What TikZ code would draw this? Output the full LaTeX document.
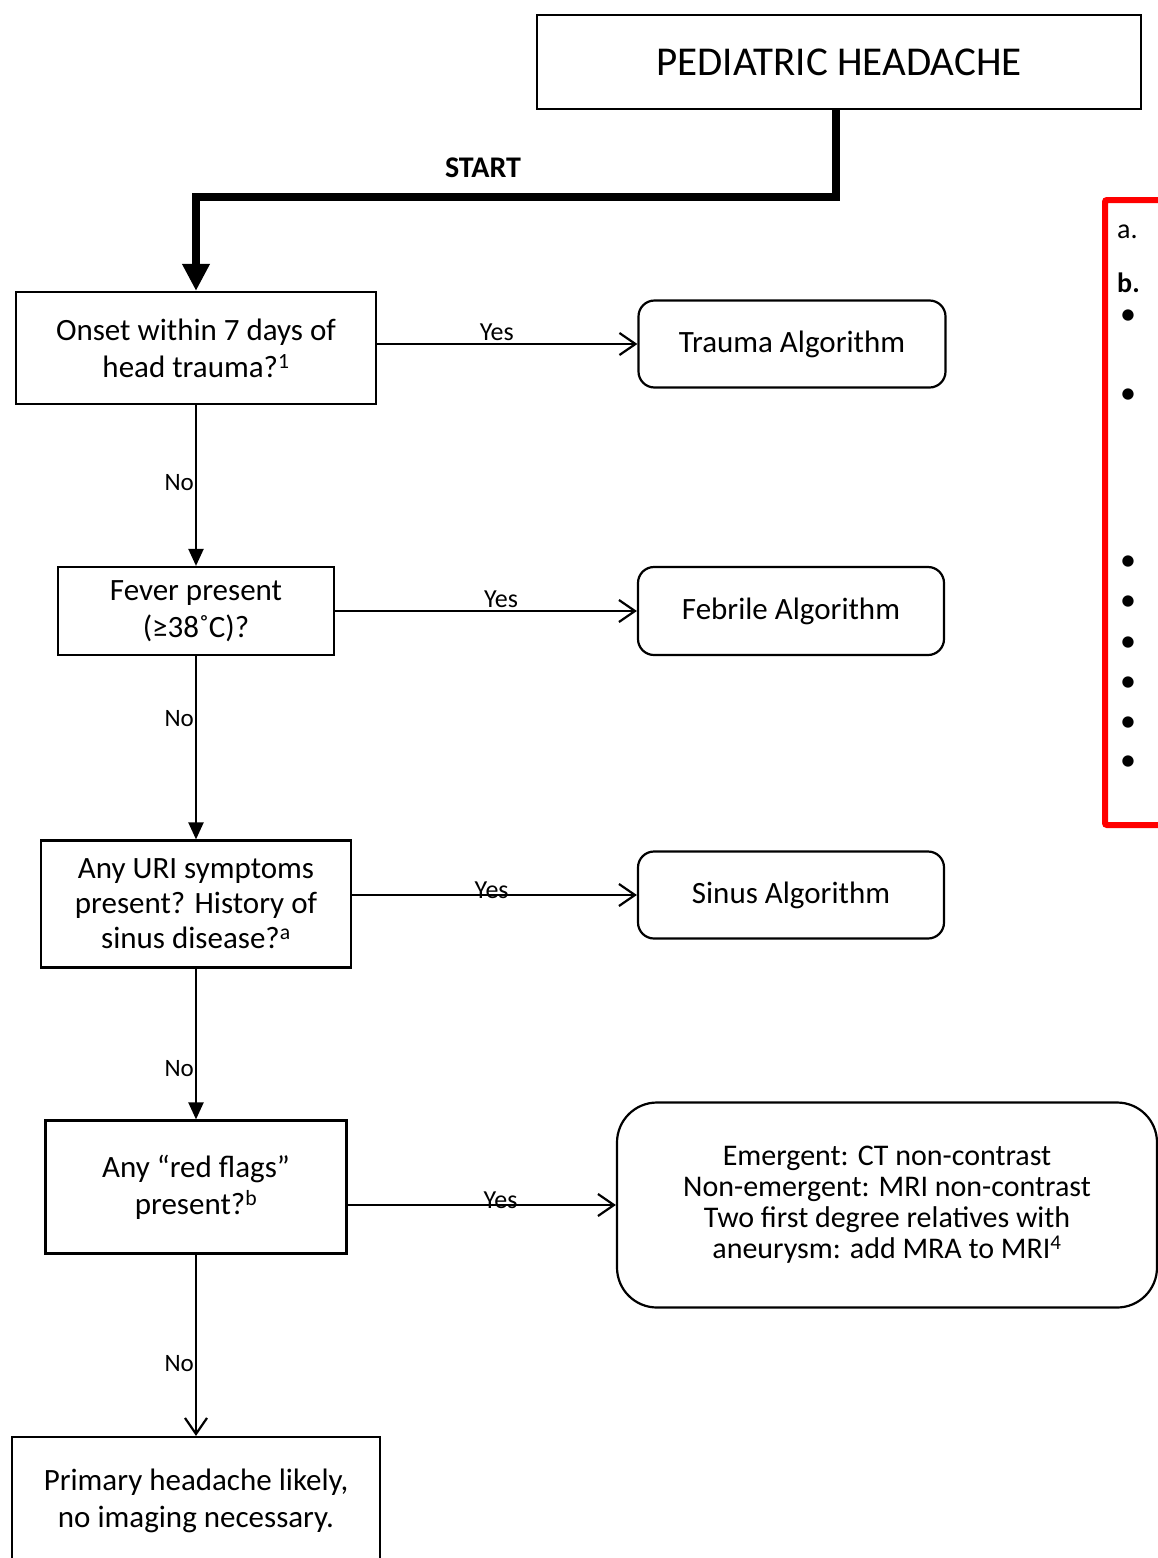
\documentclass[tikz,border=0pt]{standalone}
\usepackage{fontspec}
\setmainfont{Carlito}
\usetikzlibrary{arrows.meta}
\begin{document}
\begin{tikzpicture}[x=1pt,y=-1pt,
  box/.style={draw, line width=2.2pt, rectangle, align=center, font=\fontsize{31}{37}\selectfont, inner sep=0pt},
  rbox/.style={box, rounded corners=16pt},
  conn/.style={line width=2.2pt},
  lbl/.style={font=\fontsize{26}{30}\selectfont, inner sep=0pt, anchor=base},
  nolbl/.style={font=\fontsize{25}{30}\selectfont, inner sep=1pt, left},
  tri/.style={-{Triangle[length=17pt,width=15pt]}},
  barb/.style={-{Straight Barb[length=16pt,width=22pt,line width=2.2pt]}},
  note/.style={font=\fontsize{28}{32}\selectfont, anchor=west, inner sep=0pt},
  bullet/.style={font=\fontsize{32}{34}\selectfont, anchor=base west, inner sep=0pt, text height=14pt, text depth=0pt}
]
\useasboundingbox (0,0) rectangle (1158,1558);
\clip (0,0) rectangle (1158,1558);

\node[box, minimum width=604pt, minimum height=94pt, font=\fontsize{41}{48}\selectfont] (title) at (839,62) {PEDIATRIC HEADACHE};
\node[box, minimum width=360pt, minimum height=112pt] (q1) at (196,348) {Onset within 7 days of\\head trauma?\textsuperscript{1}};
\node[rbox, minimum width=307pt, minimum height=87pt] (trauma) at (792,344) {Trauma Algorithm};
\node[box, minimum width=276pt, minimum height=88pt] (q2) at (196,611) {Fever present\\(≥38˚C)?};
\node[rbox, minimum width=306pt, minimum height=88pt] (febrile) at (791,611) {Febrile Algorithm};
\node[box, minimum width=310pt, minimum height=127pt, font=\fontsize{31}{35}\selectfont] (q3) at (196,904) {Any URI symptoms\\present? History of\\sinus disease?\textsuperscript{a}};
\node[rbox, minimum width=306pt, minimum height=87pt] (sinus) at (791,895) {Sinus Algorithm};
\node[box, minimum width=301pt, minimum height=133pt] (q4) at (196,1187) {Any “red flags”\\present?\textsuperscript{b}};
\node[box, rounded corners=40pt, minimum width=540pt, minimum height=205pt, font=\fontsize{30}{31}\selectfont] (res) at (887,1205) {Emergent: CT non-contrast\\Non-emergent: MRI non-contrast\\Two first degree relatives with\\aneurysm: add MRA to MRI\textsuperscript{4}};
\node[box, minimum width=368pt, minimum height=128pt] (q5) at (196,1501) {Primary headache likely,\\no imaging necessary.};

% notes box (cut off at the right edge)
\node[draw=red, line width=6pt, rounded corners=2pt, minimum width=220pt, minimum height=625pt, anchor=north west, inner sep=0pt] (notes) at (1102,197) {};
\node[note] (na) at (1117,232) {a.};
\node[note, font=\fontsize{28}{32}\selectfont\bfseries] (nb) at (1117,283) {b.};
\foreach \yy [count=\i] in {314,393,560,600,641,681,721,760}{
  \node[bullet] (bul\i) at (1120,\yy+10) {•};
}

% START connector
\draw[line width=8pt, line join=miter, -{Triangle[length=27pt,width=26pt]}]
  (title.south -| 836,0) -- ++(0,87) -| (q1.north);
\node[font=\fontsize{30}{34}\selectfont\bfseries] (start) at (483,168) {START};

% Yes connectors
\draw[conn, barb] (q1.east |- trauma.west) -- node[lbl, pos=0.46, yshift=4pt] {Yes} (trauma.west);
\draw[conn, barb] (q2.east) -- node[lbl, pos=0.55, yshift=4pt] {Yes} (febrile.west);
\draw[conn, barb] (q3.east |- sinus.west) -- node[lbl, pos=0.49, yshift=-3pt] {Yes} (sinus.west);
\draw[conn, barb] (q4.east |- res.west) -- node[lbl, pos=0.57, yshift=-3pt] {Yes} (res.west);

% No connectors
\draw[conn, tri] (q1.south) -- node[nolbl, pos=0.48] {No} (q2.north);
\draw[conn, tri] (q2.south) -- node[nolbl, pos=0.34] {No} (q3.north);
\draw[conn, tri] (q3.south) -- node[nolbl, pos=0.66] {No} (q4.north);
\draw[conn, barb] (q4.south) -- node[nolbl, pos=0.6] {No} (q5.north);
\end{tikzpicture}
\end{document}
